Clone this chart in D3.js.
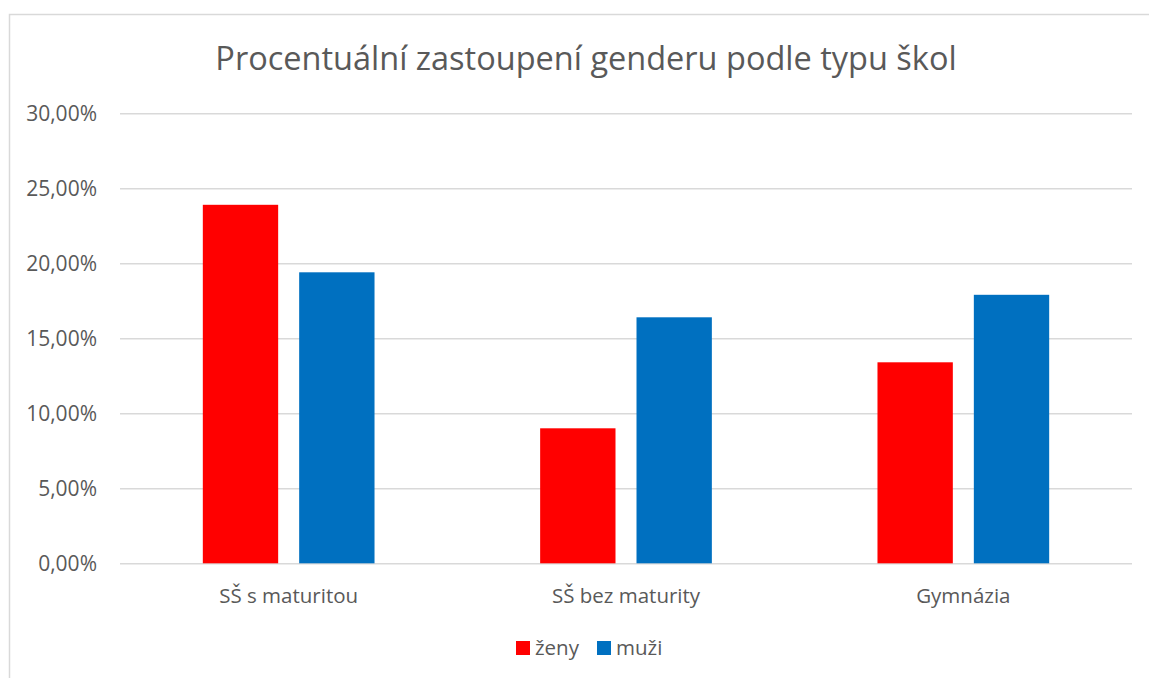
<!DOCTYPE html>
<html>
  <head>
    <meta charset="utf-8">
    <title></title>
  </head>
  <style>
    body{
      margin: 0;
      background-color: #fff;
      font-family: "Open Sans";
    }
    .grid .tick line{
      stroke: #d9d9d9
    }
  </style>
  <script src="https://d3js.org/d3.v7.min.js"></script>
  <body>
    <script>
    const categories = ["SŠ s maturitou", "SŠ bez maturity", "Gymnázia"]
    const series = ["ženy", "muži"]
    const zeny = [0.239, 0.090, 0.134]
    const muzi = [0.194, 0.164, 0.179]
    const yTicks = [0, 0.05, 0.10, 0.15, 0.20, 0.25, 0.30]
    const colors = ["#ff0000", "#0070c0"]

    var width = 1149
    var height = 678
    var plot = { left: 120, right: 1132, top: 113.3, bottom: 563.3 }

    var svg = d3.select("body")
                .append("svg")
                .attr("width", width)
                .attr("height", height)

    // chart frame (extends past window)
    svg.append("rect")
       .attr("x", 9.5).attr("y", 14.5)
       .attr("width", 1200).attr("height", 700)
       .attr("fill", "none")
       .attr("stroke", "#d9d9d9")
       .attr("stroke-width", 1.5)

    // title
    svg.append("text")
       .attr("x", 586)
       .attr("y", 70)
       .attr("text-anchor", "middle")
       .attr("font-size", "32.5px")
       .attr("fill", "#595959")
       .text("Procentuální zastoupení genderu podle typu škol")

    var cz = d3.formatLocale({decimal: ",", thousands: " ", grouping: [3], currency: ["", " Kč"]})

    let yScale = d3.scaleLinear()
                   .domain([0, 0.30])
                   .range([plot.bottom, plot.top])

    // gridlines
    svg.append("g")
       .attr("class", "grid")
       .attr("transform", "translate(" + plot.left + ",0)")
       .call(d3.axisLeft(yScale)
               .tickValues(yTicks)
               .tickSize(-(plot.right - plot.left))
               .tickFormat(""))
       .call(g => g.select(".domain").remove())
       .selectAll("line")
       .attr("stroke-width", 1.5)

    // y labels
    svg.append("g")
       .attr("transform", "translate(" + plot.left + ",0)")
       .call(d3.axisLeft(yScale)
               .tickValues(yTicks)
               .tickSize(0)
               .tickPadding(23)
               .tickFormat(cz.format(".2%")))
       .call(g => g.select(".domain").remove())
       .selectAll("text")
       .attr("font-family", "Open Sans")
       .attr("font-size", "21px")
       .attr("fill", "#595959")

    let x0 = d3.scaleBand()
               .domain(categories)
               .range([plot.left, plot.right])
               .paddingInner(0.491)
               .paddingOuter(0.2455)

    let x1 = d3.scaleBand()
               .domain(series)
               .range([0, x0.bandwidth()])
               .paddingInner(0.218)

    // x labels
    svg.append("g")
       .attr("transform", "translate(0," + plot.bottom + ")")
       .call(d3.axisBottom(x0).tickSize(0).tickPadding(25))
       .call(g => g.select(".domain").remove())
       .selectAll("text")
       .attr("font-family", "Open Sans")
       .attr("font-size", "20.5px")
       .attr("fill", "#595959")

    var values = [zeny, muzi]

    series.forEach(function(s, si){
      svg.append("g")
         .selectAll("rect")
         .data(categories)
         .enter()
         .append("rect")
         .attr("x", function(c){ return x0(c) + x1(s) })
         .attr("y", function(c, i){ return yScale(values[si][i]) })
         .attr("width", x1.bandwidth())
         .attr("height", function(c, i){ return plot.bottom - yScale(values[si][i]) })
         .attr("fill", colors[si])
    })

    // legend
    var legend = svg.append("g")
    var legendX = [516, 597]
    legend.selectAll("rect")
          .data(series)
          .enter()
          .append("rect")
          .attr("x", function(d, i){ return legendX[i] })
          .attr("y", 641)
          .attr("width", 14)
          .attr("height", 14)
          .attr("fill", function(d, i){ return colors[i] })

    legend.selectAll("text")
          .data(series)
          .enter()
          .append("text")
          .attr("x", function(d, i){ return legendX[i] + 19 })
          .attr("y", 655)
          .attr("font-size", "20.5px")
          .attr("fill", "#595959")
          .text(function(d){ return d })
    </script>
  </body>
</html>
